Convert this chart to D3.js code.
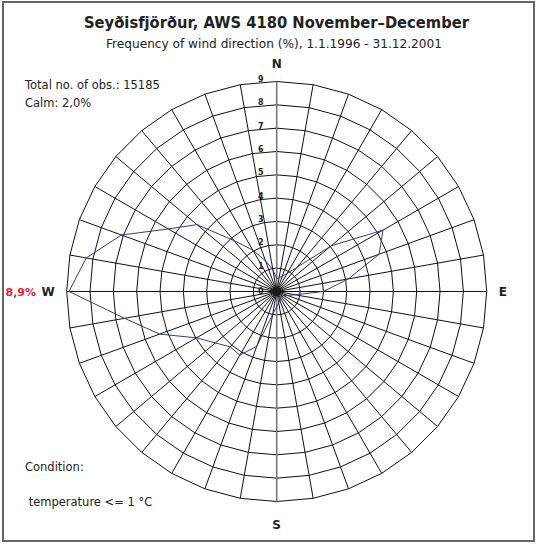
<!DOCTYPE html>
<html>
<head>
<meta charset="utf-8">
<script src="https://cdn.jsdelivr.net/npm/d3@7"></script>
<style>
  body { margin: 0; background: #fff; }
  text { font-family: "DejaVu Sans", sans-serif; }
</style>
</head>
<body>
<div id="chart"></div>
<script>
// wind directions (degrees from north) and frequency in %
var directions = [0, 10, 20, 30, 40, 50, 60, 70, 80, 90, 100, 110,
                  120, 130, 140, 150, 160, 170, 180, 190, 200, 210, 220, 230,
                  240, 250, 260, 270, 280, 290, 300, 310, 320, 330, 340, 350];
var frequency = [0.55, 0.6, 0.7, 0.9, 1.35, 3.04, 5.26, 4.67, 3.12, 2.0, 0.8, 0.5,
                 0.35, 0.3, 0.3, 0.35, 0.4, 0.5, 0.65, 1.0, 2.5, 3.15, 3.1, 3.43,
                 3.97, 5.34, 6.62, 8.9, 8.29, 7.08, 5.36, 4.46, 2.85, 2.05, 1.4, 0.95];
var ringValues = [1, 2, 3, 4, 5, 6, 7, 8, 9];
var ringLabels = [0, 1, 2, 3, 4, 5, 6, 7, 8, 9];
var compass = [["N", 0], ["E", 90], ["S", 180], ["W", 270]];
var maxLabel = "8,9%";
var title = "Seyðisfjörður, AWS 4180 November–December";
var subtitle = "Frequency of wind direction (%), 1.1.1996 - 31.12.2001";
var infoLines = ["Total no. of obs.: 15185", "Calm: 2,0%"];
var conditionLines = ["Condition:", " temperature <= 1 °C"];

var width = 537, height = 544;
var cx = 276.7, cy = 291.5;

var svg = d3.select("#chart").append("svg")
    .attr("width", width)
    .attr("height", height);

// frame
svg.append("rect")
    .attr("x", 3).attr("y", 2)
    .attr("width", 531).attr("height", 539)
    .attr("fill", "#fff")
    .attr("stroke", "#666")
    .attr("stroke-width", 2);

var r = d3.scaleLinear().domain([0, 9]).range([0, 210]);
var rad = function(deg) { return deg * Math.PI / 180; };

var g = svg.append("g").attr("transform", "translate(" + cx + "," + cy + ")");

// rings, drawn as 36-gons through the direction spokes
var ringLine = d3.lineRadial()
    .angle(function(d) { return rad(d[0]); })
    .radius(function(d) { return r(d[1]); })
    .curve(d3.curveLinearClosed);

g.selectAll(".ring")
    .data(ringValues)
    .enter().append("path")
    .attr("class", "ring")
    .attr("d", function(v) { return ringLine(directions.map(function(d) { return [d, v]; })); })
    .attr("fill", "none")
    .attr("stroke", "#111")
    .attr("stroke-width", 1);

// spokes
g.selectAll(".spoke")
    .data(directions)
    .enter().append("line")
    .attr("class", "spoke")
    .attr("x1", 0).attr("y1", 0)
    .attr("x2", function(d) { return r(9) * Math.sin(rad(d)); })
    .attr("y2", function(d) { return -r(9) * Math.cos(rad(d)); })
    .attr("stroke", function(d) { return (d === 0 || d === 180) ? "#777" : "#111"; })
    .attr("stroke-width", function(d) { return (d === 0 || d === 180) ? 1.6 : 1; });

g.append("circle").attr("r", 4.5).attr("fill", "#1a1a1a");

// ring labels
g.selectAll(".rlabel")
    .data(ringLabels)
    .enter().append("text")
    .attr("class", "rlabel")
    .attr("x", -16)
    .attr("y", function(v) { return -r(v) + (v === 0 ? 2.5 : 0.5); })
    .attr("text-anchor", "middle")
    .attr("font-size", 8)
    .attr("font-weight", "bold")
    .attr("fill", "#222")
    .text(function(v) { return v; });

// frequency polygon
var freqLine = d3.lineRadial()
    .angle(function(d, i) { return rad(directions[i]); })
    .radius(function(d) { return r(d); })
    .curve(d3.curveLinearClosed);

g.append("path")
    .attr("d", freqLine(frequency))
    .attr("fill", "none")
    .attr("stroke", "#3a3a8c")
    .attr("stroke-width", 1);

// compass letters
var compassPos = {
    N: [0, -223.5, "middle"],
    S: [0, 237, "middle"],
    E: [222, 4.5, "start"],
    W: [-222, 4.5, "end"]
};
g.selectAll(".compass")
    .data(compass)
    .enter().append("text")
    .attr("class", "compass")
    .attr("x", function(d) { return compassPos[d[0]][0]; })
    .attr("y", function(d) { return compassPos[d[0]][1]; })
    .attr("text-anchor", function(d) { return compassPos[d[0]][2]; })
    .attr("font-size", 12)
    .attr("font-weight", "bold")
    .attr("fill", "#222")
    .text(function(d) { return d[0]; });

svg.append("text")
    .attr("x", 36).attr("y", cy + 4.5)
    .attr("text-anchor", "end")
    .attr("font-family", "'DejaVu Sans Condensed', 'DejaVu Sans', sans-serif")
    .attr("font-size", 11)
    .attr("font-weight", "bold")
    .attr("fill", "#e8262d")
    .text(maxLabel);

// titles
svg.append("text")
    .attr("x", 276.5).attr("y", 28)
    .attr("text-anchor", "middle")
    .attr("font-size", 15.5)
    .attr("font-weight", "bold")
    .attr("fill", "#222")
    .attr("textLength", 385)
    .attr("lengthAdjust", "spacingAndGlyphs")
    .text(title);

svg.append("text")
    .attr("x", 274).attr("y", 48)
    .attr("text-anchor", "middle")
    .attr("font-size", 12.5)
    .attr("fill", "#222")
    .attr("textLength", 336)
    .attr("lengthAdjust", "spacingAndGlyphs")
    .text(subtitle);

svg.selectAll(".info")
    .data(infoLines)
    .enter().append("text")
    .attr("class", "info")
    .attr("x", 25)
    .attr("y", function(d, i) { return 89 + i * 18; })
    .attr("font-size", 11.5)
    .attr("fill", "#222")
    .text(function(d) { return d; });

svg.selectAll(".cond")
    .data(conditionLines)
    .enter().append("text")
    .attr("class", "cond")
    .attr("x", 25)
    .attr("y", function(d, i) { return 471 + i * 35; })
    .attr("font-size", 11.5)
    .attr("fill", "#222")
    .attr("xml:space", "preserve")
    .style("white-space", "pre")
    .text(function(d) { return d; });
</script>
</body>
</html>
